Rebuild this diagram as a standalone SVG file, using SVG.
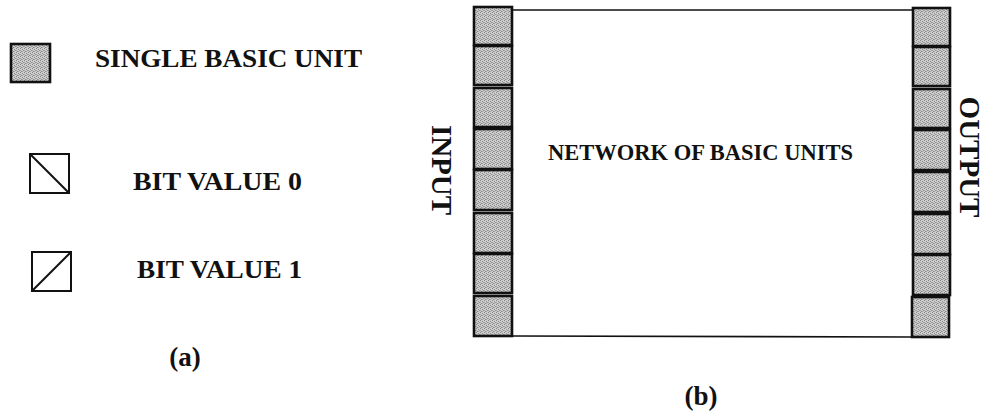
<svg xmlns="http://www.w3.org/2000/svg" width="989" height="416" viewBox="0 0 989 416">
  <defs>
    <!-- halftone-like grey fill for a basic unit -->
    <pattern id="dither" width="4" height="4" patternUnits="userSpaceOnUse">
      <rect width="4" height="4" fill="#cdcdcd"/>
      <rect x="0" y="0" width="1" height="1" fill="#858585"/>
      <rect x="2" y="1" width="1" height="1" fill="#8c8c8c"/>
      <rect x="3" y="2" width="1" height="1" fill="#959595"/>
      <rect x="1" y="3" width="1" height="1" fill="#888888"/>
      <rect x="2" y="3" width="1" height="1" fill="#a8a8a8"/>
      <rect x="0" y="2" width="1" height="1" fill="#a4a4a4"/>
    </pattern>
  </defs>
  <style>
    .lbl { font-family: "Liberation Serif", "Times New Roman", serif; font-weight: bold; fill: #111; }
    .unit { fill: url(#dither); stroke: #111; stroke-width: 2.6; }
    .bit { fill: #fff; stroke: #111; stroke-width: 2; }
    .edge { fill: none; stroke: #111; stroke-width: 1.6; }
  </style>
  <rect width="989" height="416" fill="#fff"/>

  <!-- (a) legend -->
  <g id="legend-unit">
    <rect class="unit" x="11" y="44" width="39" height="38"/>
    <text class="lbl" x="95" y="67" font-size="25" textLength="267" lengthAdjust="spacingAndGlyphs">SINGLE BASIC UNIT</text>
  </g>
  <g id="legend-bit0">
    <rect class="bit" x="30" y="154" width="39" height="39"/>
    <line class="bit" x1="30" y1="154" x2="69" y2="193"/>
    <text class="lbl" x="133" y="190" font-size="25" textLength="169" lengthAdjust="spacingAndGlyphs">BIT VALUE 0</text>
  </g>
  <g id="legend-bit1">
    <rect class="bit" x="32" y="252" width="39" height="39"/>
    <line class="bit" x1="32" y1="291" x2="71" y2="252"/>
    <text class="lbl" x="137" y="278" font-size="25" textLength="165" lengthAdjust="spacingAndGlyphs">BIT VALUE 1</text>
  </g>
  <text class="lbl" x="185" y="366" font-size="27" text-anchor="middle">(a)</text>

  <!-- (b) network -->
  <g id="connectors">
    <line class="edge" x1="513" y1="10" x2="912" y2="10"/>
    <line class="edge" x1="513" y1="336" x2="912" y2="337"/>
  </g>
  <g id="network">
    <text class="lbl" x="548" y="160" font-size="22.5" textLength="305" lengthAdjust="spacingAndGlyphs">NETWORK OF BASIC UNITS</text>
  </g>
  <g id="input-units">
    <rect class="unit" x="474" y="7" width="38" height="38"/>
    <rect class="unit" x="474" y="46" width="38" height="39"/>
    <rect class="unit" x="474" y="88" width="38" height="39"/>
    <rect class="unit" x="474" y="129" width="38" height="40"/>
    <rect class="unit" x="474" y="170" width="38" height="40"/>
    <rect class="unit" x="474" y="213" width="38" height="40"/>
    <rect class="unit" x="474" y="254" width="38" height="39"/>
    <rect class="unit" x="474" y="296" width="38" height="40"/>
    <text class="lbl" font-size="29" text-anchor="middle" transform="translate(432,170) rotate(90)">INPUT</text>
  </g>
  <g id="output-units">
    <rect class="unit" x="913" y="8" width="37" height="38"/>
    <rect class="unit" x="913" y="47" width="37" height="39"/>
    <rect class="unit" x="913" y="89" width="37" height="39"/>
    <rect class="unit" x="913" y="130" width="37" height="40"/>
    <rect class="unit" x="913" y="172" width="37" height="40"/>
    <rect class="unit" x="913" y="214" width="37" height="40"/>
    <rect class="unit" x="913" y="255" width="37" height="40"/>
    <rect class="unit" x="912" y="297" width="37" height="40"/>
    <text class="lbl" font-size="29" text-anchor="middle" transform="translate(960,157) rotate(90)">OUTPUT</text>
  </g>
  <text class="lbl" x="701" y="405" font-size="27" text-anchor="middle">(b)</text>
</svg>
